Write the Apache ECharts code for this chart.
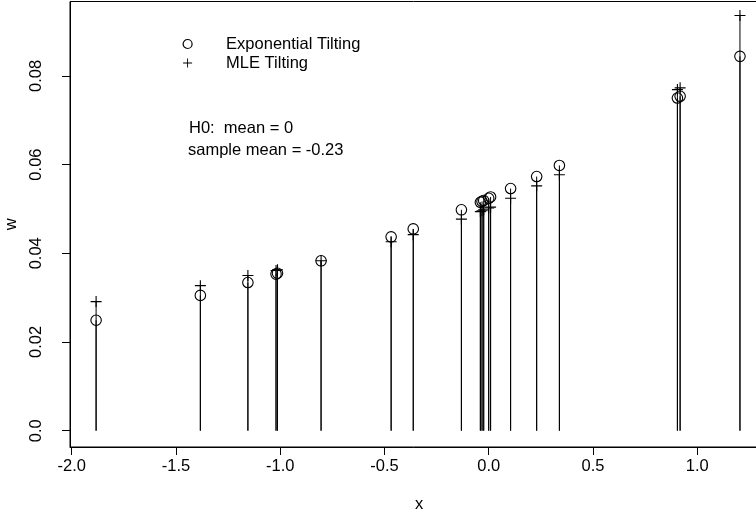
<!DOCTYPE html>
<html>
<head>
<meta charset="utf-8">
<script src="https://cdn.jsdelivr.net/npm/echarts@6/dist/echarts.min.js"></script>
<style>html,body{margin:0;padding:0;background:#fff;}#c{width:756px;height:514px;}</style>
</head>
<body>
<div id="c"></div>
<script>
const xs = [-1.883, -1.383, -1.155, -1.020, -1.013, -0.804, -0.468, -0.362, -0.131, -0.040, -0.032, -0.024, 0.000, 0.009, 0.105, 0.230, 0.339, 0.905, 0.918, 1.205];
const wExp = [0.0249, 0.0305, 0.0334, 0.0353, 0.0355, 0.0383, 0.0437, 0.0455, 0.0498, 0.0515, 0.0517, 0.0519, 0.0524, 0.0527, 0.0546, 0.0573, 0.0598, 0.0750, 0.0754, 0.0844];
const wMle = [0.0291, 0.0327, 0.0350, 0.0361, 0.0363, 0.0383, 0.0426, 0.0442, 0.0477, 0.0494, 0.0496, 0.0498, 0.0502, 0.0504, 0.0524, 0.0552, 0.0577, 0.0769, 0.0773, 0.0936];
const xTicks = [-2.0, -1.5, -1.0, -0.5, 0.0, 0.5, 1.0];
const yTicks = [0, 0.02, 0.04, 0.06, 0.08];
const seriesNames = ['Exponential Tilting', 'MLE Tilting'];
const annot = ['H0:  mean = 0', 'sample mean = -0.23'];

const FONT = 'Liberation Sans, Arial, sans-serif';
const FS = 16.5;
const PLUS = 'path://M-0.1,-1H0.1V-0.1H1V0.1H0.1V1H-0.1V0.1H-1V-0.1H-0.1Z';

const chart = echarts.init(document.getElementById('c'), null, {renderer: 'canvas'});

function stem(params, api) {
  const x = api.value(0), y = api.value(1);
  const p0 = api.coord([x, 0]);
  const p1 = api.coord([x, y]);
  return {type: 'line', shape: {x1: p0[0], y1: p0[1], x2: p1[0], y2: p1[1]},
          style: {stroke: '#000', lineWidth: 1}};
}

const expData = xs.map((x, i) => [x, wExp[i]]);
const mleData = xs.map((x, i) => [x, wMle[i]]);

chart.setOption({
  animation: false,
  backgroundColor: '#fff',
  textStyle: {fontFamily: FONT},
  grid: {left: 70, top: 1.5, width: 698, height: 445.5, show: true, borderColor: '#000', borderWidth: 1,
         backgroundColor: 'transparent', containLabel: false, outerBoundsMode: 'none'},
  xAxis: {
    type: 'value', min: -2.0082, max: 1.3395,
    name: 'x', nameLocation: 'middle', nameGap: 49, nameMoveOverlap: false,
    nameTextStyle: {fontSize: FS, color: '#000', fontFamily: FONT},
    axisLine: {show: true, onZero: false, lineStyle: {color: '#000', width: 1}},
    axisTick: {show: true, length: 8, lineStyle: {color: '#000', width: 1}, customValues: xTicks},
    axisLabel: {customValues: xTicks, fontSize: FS, color: '#000', fontFamily: FONT, margin: 11,
                formatter: v => v.toFixed(1)},
    splitLine: {show: false}
  },
  yAxis: {
    type: 'value', min: -0.00368, max: 0.09677,
    name: 'w', nameLocation: 'middle', nameGap: 50, nameRotate: 90, nameMoveOverlap: false,
    nameTextStyle: {fontSize: FS, color: '#000', fontFamily: FONT},
    axisLine: {show: true, onZero: false, lineStyle: {color: '#000', width: 1}},
    axisTick: {show: true, length: 8, lineStyle: {color: '#000', width: 1}, customValues: yTicks},
    axisLabel: {customValues: yTicks, fontSize: FS, color: '#000', fontFamily: FONT, rotate: 90, margin: 25,
                formatter: v => (v === 0 ? '0.0' : String(+v.toFixed(2)))},
    splitLine: {show: false}
  },
  legend: {
    orient: 'vertical', left: 182.5, top: 35.5, padding: 0, itemGap: 2,
    itemWidth: 9, itemHeight: 9, selectedMode: false,
    textStyle: {fontSize: FS, color: '#000', fontFamily: FONT, padding: [0, 0, 0, 29]},
    data: [
      {name: seriesNames[0], icon: 'circle', itemStyle: {color: 'transparent', borderColor: '#000', borderWidth: 1.2}},
      {name: seriesNames[1], icon: PLUS, itemStyle: {color: '#000', borderWidth: 0}}
    ]
  },
  graphic: [
    {type: 'text', x: 189, y: 128, style: {text: annot[0], font: FS + 'px ' + FONT, fill: '#000', verticalAlign: 'middle'}},
    {type: 'text', x: 188, y: 150, style: {text: annot[1], font: FS + 'px ' + FONT, fill: '#000', verticalAlign: 'middle'}}
  ],
  series: [
    {type: 'custom', name: 'stemExp', renderItem: stem, data: expData, encode: {x: 0, y: 1}, silent: true, z: 1},
    {type: 'custom', name: 'stemMle', renderItem: stem, data: mleData, encode: {x: 0, y: 1}, silent: true, z: 1},
    {type: 'scatter', name: seriesNames[0], data: expData, symbol: 'circle', symbolSize: 10.5,
     itemStyle: {color: 'transparent', borderColor: '#000', borderWidth: 1.1, opacity: 1}, z: 3},
    {type: 'scatter', name: seriesNames[1], data: mleData, symbol: PLUS, symbolSize: 11,
     itemStyle: {color: '#000', borderWidth: 0, opacity: 1}, z: 4}
  ]
});
</script>
</body>
</html>
